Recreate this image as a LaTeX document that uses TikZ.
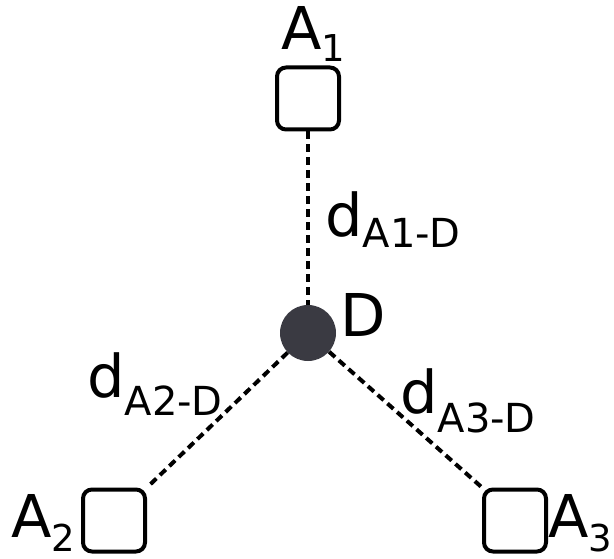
\documentclass[tikz,border=0pt]{standalone}
\usepackage{fontspec}
\setmainfont{DejaVu Sans}
\definecolor{nodefill}{HTML}{3A3A42}
\tikzset{
  anchorbox/.style={draw=black, line width=4pt, rounded corners=9pt, minimum size=62pt, inner sep=0pt},
  hub/.style={circle, fill=nodefill, minimum size=56pt, inner sep=0pt},
  link/.style={line width=4pt, dash pattern=on 8pt off 5pt},
  lbl/.style={anchor=base west, inner sep=0pt, font=\fontsize{59}{70}\selectfont}
}
% lowered subscript: #1 = drop in pt, #2 = size in pt, #3 = text
\newcommand{\sublow}[3]{\raisebox{-#1pt}{\fontsize{#2}{#2}\selectfont #3}}
\begin{document}
\begin{tikzpicture}[x=1pt,y=-1pt]
\useasboundingbox (0,0) rectangle (614,559);
% anchors and the unknown point
\node[anchorbox] (a1) at (308,98.5) {};
\node[anchorbox] (a2) at (114,520.5) {};
\node[anchorbox] (a3) at (515,520.5) {};
\node[hub] (d) at (308,333) {};
% distance links
\draw[link] (a1.south) -- (d.north);
\draw[link] (d) -- (a2.north east);
\draw[link] (d) -- (a3.north west);
% labels
\node[lbl] (la1) at (281,50) {A\sublow{12}{37}{1}};
\node[lbl] (la2) at (11,537) {A\sublow{14}{37}{2}};
\node[lbl] (la3) at (548,537) {A\sublow{14}{37}{3}};
\node[lbl] (ld) at (340,337) {D};
\node[lbl] (l1) at (325,237) {d\sublow{11}{40}{A1-D}};
\node[lbl] (l2) at (87,397) {d\sublow{18}{40}{A2-D}};
\node[lbl] (l3) at (400,413) {d\sublow{19}{40}{A3-D}};
\end{tikzpicture}
\end{document}
